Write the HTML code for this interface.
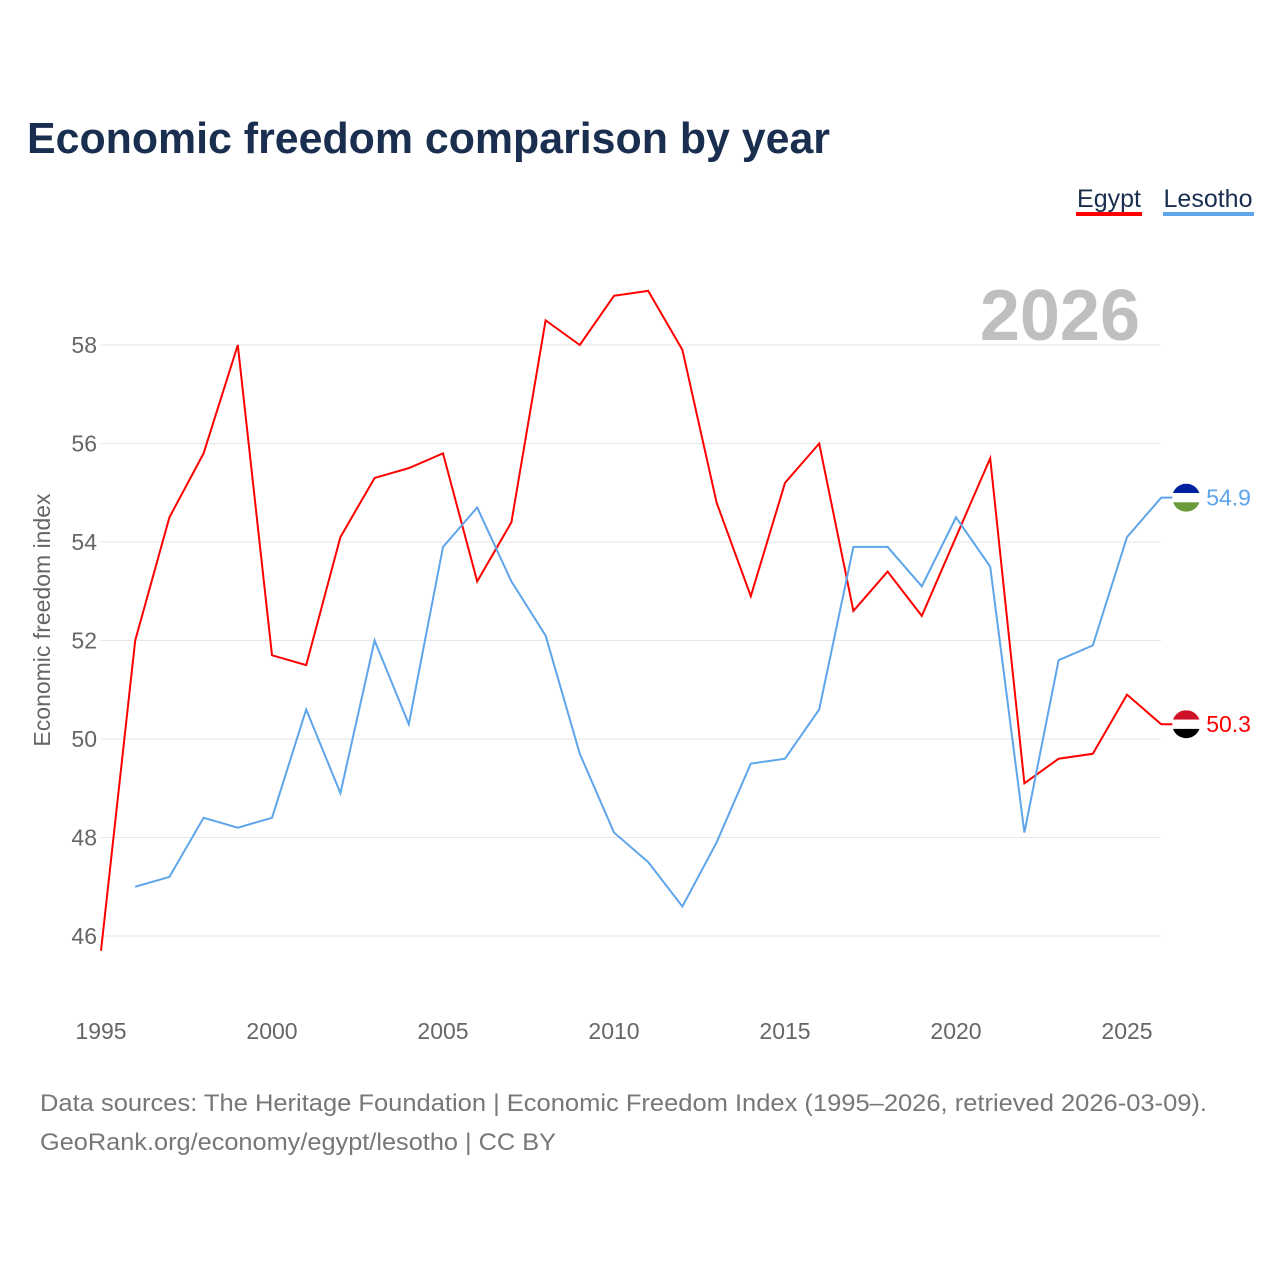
<!DOCTYPE html>
<html><head><meta charset="utf-8">
<style>
html,body{margin:0;padding:0;background:#fff;}
body{width:1280px;height:1280px;overflow:hidden;font-family:"Liberation Sans",sans-serif;}
</style></head>
<body>
<svg id="chart" width="1280" height="1280" xmlns="http://www.w3.org/2000/svg" font-family="Liberation Sans, sans-serif">
<text x="27" y="153" font-size="44" font-weight="bold" fill="#1a2e4f" textLength="803" lengthAdjust="spacingAndGlyphs">Economic freedom comparison by year</text>
<g>
<text x="1109" y="207" font-size="25" fill="#1a2e4f" text-anchor="middle">Egypt</text>
<rect x="1076" y="212" width="66" height="4" fill="#ff0000"/></g>
<g>
<text x="1208" y="207" font-size="25" fill="#1a2e4f" text-anchor="middle">Lesotho</text>
<rect x="1163" y="212" width="91" height="4" fill="#5ea5ea"/></g>
<text x="1140" y="340" font-size="72" font-weight="bold" fill="#bfbfbf" text-anchor="end">2026</text>
<text transform="translate(50,620) rotate(-90)" font-size="23" fill="#666" text-anchor="middle">Economic freedom index</text>
<g id="grid"></g><g id="yt"></g><g id="xt"></g><g id="lines"></g>
<text x="40" y="1111" font-size="24" fill="#777" textLength="1167" lengthAdjust="spacingAndGlyphs">Data sources: The Heritage Foundation | Economic Freedom Index (1995–2026, retrieved 2026-03-09).</text>
<text x="40" y="1150" font-size="24" fill="#777" textLength="516" lengthAdjust="spacingAndGlyphs">GeoRank.org/economy/egypt/lesotho | CC BY</text>
</svg>
<script>
const years=[];for(let y=1995;y<=2026;y++)years.push(y);
const egypt=[45.7,52.0,54.5,55.8,58.0,51.7,51.5,54.1,55.3,55.5,55.8,53.2,54.4,58.5,58.0,59.0,59.1,57.9,54.8,52.9,55.2,56.0,52.6,53.4,52.5,54.1,55.7,49.1,49.6,49.7,50.9,50.3];
const lesotho=[null,47.0,47.2,48.4,48.2,48.4,50.6,48.9,52.0,50.3,53.9,54.7,53.2,52.1,49.7,48.1,47.5,46.6,47.9,49.5,49.6,50.6,53.9,53.9,53.1,54.5,53.5,48.1,51.6,51.9,54.1,54.9];
const yTicks=[46,48,50,52,54,56,58];
const xTicks=[1995,2000,2005,2010,2015,2020,2025];
const NS="http://www.w3.org/2000/svg";
const X=y=>101+(y-1995)*34.2;
const Y=v=>345+(58-v)*49.25;
function mk(t,a,p){const e=document.createElementNS(NS,t);for(const k in a)e.setAttribute(k,a[k]);document.getElementById(p).appendChild(e);return e;}
yTicks.forEach(v=>{
 const l=mk('line',{x1:101,x2:1161,y1:Y(v),y2:Y(v),stroke:'#e6e6e6','stroke-width':1},'grid');
 
 
 const t=mk('text',{x:97,y:Y(v)+8,'font-size':23,fill:'#666','text-anchor':'end'},'yt');t.textContent=v;
 
 
});
xTicks.forEach(v=>{
 const t=mk('text',{x:X(v),y:1039,'font-size':23,fill:'#666','text-anchor':'middle'},'xt');t.textContent=v;
 
 
});
function line(data,color,name){
 let d='';data.forEach((v,i)=>{if(v==null)return;d+=(d?'L':'M')+X(years[i])+','+Y(v);});
 const last=data[data.length-1];const cx=X(2026)+25,cy=Y(last);
 d+='L'+cx+','+cy;
 const p=mk('path',{d:d,fill:'none',stroke:color,'stroke-width':2},'lines');
 
 
 return [cx,cy,last];
}
const [ex,ey,ev]=line(egypt,'#ff0000','egypt');
const [lx,ly,lv]=line(lesotho,'#5ea5ea','lesotho');
function flag(cx,cy,cols,name){
 const id='c'+name;
 const cp=mk('clipPath',{id:id},'lines');
 const c=document.createElementNS(NS,'circle');c.setAttribute('cx',cx);c.setAttribute('cy',cy);c.setAttribute('r',14);cp.appendChild(c);
 cols.forEach((col,i)=>{const r=mk('rect',{x:cx-14,y:cy-14+i*28/3,width:28,height:28/3+0.5,fill:col,'clip-path':'url(#'+id+')'},'lines');
  
  });
}
flag(ex,ey,['#ce1126','#ffffff','#000000'],'egypt');
flag(lx,ly,['#00209f','#ffffff','#6a9a3a'],'lesotho');
const t1=mk('text',{x:ex+20,y:ey+8,'font-size':23,fill:'#ff0000'},'lines');t1.textContent=ev.toFixed(1);


const t2=mk('text',{x:lx+20,y:ly+8,'font-size':23,fill:'#5ea5ea'},'lines');t2.textContent=lv.toFixed(1);


</script>
</body></html>
